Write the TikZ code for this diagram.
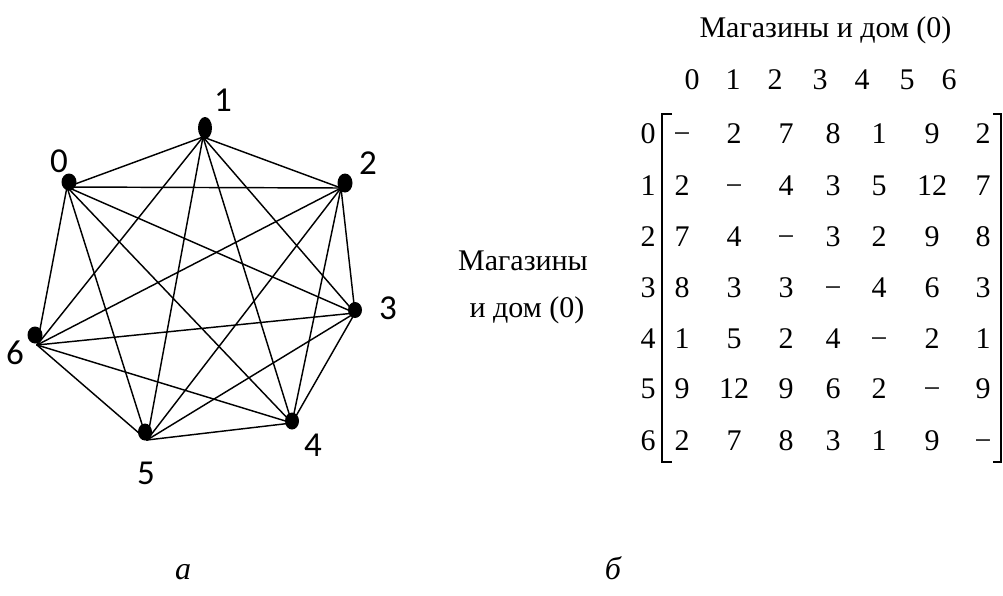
\documentclass[tikz,border=0pt]{standalone}
\usepackage{fontspec}
\setmainfont{Liberation Serif}
\newfontfamily\lblfont{Carlito}
\usetikzlibrary{shapes.geometric}
\begin{document}
\begin{tikzpicture}[x=1pt,y=-1pt,
  vert/.style={ellipse, fill=black, inner sep=0pt, minimum width=15pt, minimum height=18pt},
  vlabel/.style={font=\lblfont\fontsize{35}{42}\selectfont, inner sep=0pt},
  edge/.style={line width=1.45pt, line cap=round},
  cell/.style={font=\fontsize{30}{36}\selectfont, inner sep=0pt, anchor=base},
  txt/.style={font=\fontsize{30}{36}\selectfont, inner sep=0pt, anchor=base},
  capt/.style={font=\itshape\fontsize{32}{38}\selectfont, inner sep=0pt, anchor=base},
  bracket/.style={line width=1.6pt}]

\useasboundingbox (0,0) rectangle (1003,595);

% edge hubs of the vertices
\coordinate (h0) at (67,187);
\coordinate (h1) at (203,137);
\coordinate (h2) at (341,188);
\coordinate (h3) at (355,313);
\coordinate (h4) at (292,423);
\coordinate (h5) at (147,440);
\coordinate (h6) at (37,345);

\foreach \a/\b in {0/1,0/2,0/3,0/4,0/5,0/6,1/2,1/3,1/4,1/5,1/6,2/3,2/4,2/5,2/6,3/4,3/5,3/6,4/5,4/6,5/6}
  \draw[edge] (h\a) -- (h\b);

% vertices
\node[vert, minimum height=17pt] (v0) at (69,182) {};
\node[vert, minimum width=14pt, minimum height=22pt] (v1) at (205,128) {};
\node[vert, minimum height=19pt] (v2) at (345,183) {};
\node[vert, minimum width=14pt, minimum height=16pt] (v3) at (355,310) {};
\node[vert, minimum width=14pt, minimum height=17pt] (v4) at (292,421) {};
\node[vert, minimum width=14pt, minimum height=17pt] (v5) at (145,432) {};
\node[vert, minimum height=17pt] (v6) at (35,335) {};

% vertex labels
\node[vlabel] (l0) at (59,161) {0};
\node[vlabel] (l1) at (223,100) {1};
\node[vlabel] (l2) at (368,163) {2};
\node[vlabel] (l3) at (388,308) {3};
\node[vlabel] (l4) at (313,445) {4};
\node[vlabel] (l5) at (146,473) {5};
\node[vlabel] (l6) at (15,353) {6};

% matrix titles
\node[txt] (title) at (825.5,37) {Магазины и дом (0)};
\node[txt] (side1) at (523,270) {Магазины};
\node[txt] (side2) at (527,317) {и дом (0)};

% column headers
\foreach \v/\xx in {0/692,1/733,2/775,3/820,4/862,5/907,6/949}
  \node[txt] (colh\v) at (\xx,89) {\v};

% rows (baseline = row centre + 10)
\foreach \r/\yy/\vals in {0/143/{−,2,7,8,1,9,2},
                          1/195/{2,−,4,3,5,12,7},
                          2/246/{7,4,−,3,2,9,8},
                          3/297/{8,3,3,−,4,6,3},
                          4/348/{1,5,2,4,−,2,1},
                          5/398/{9,12,9,6,2,−,9},
                          6/450/{2,7,8,3,1,9,−}} {
  \node[cell] (rowl\r) at (648,\yy) {\r};
  \foreach \v [count=\c from 0] in \vals {
    \pgfmathsetmacro{\xx}{{682,734,786,833,879,932,983}[\c]}
    \node[cell] (m\r-\c) at (\xx,\yy) {\v};
  }
}

% brackets
\draw[bracket] (672,114) -- (662,114) -- (662,462) -- (672,462);
\draw[bracket] (993,114) -- (1001,114) -- (1001,462) -- (993,462);

% captions
\node[capt] (capa) at (183,579) {а};
\node[capt] (capb) at (613,579) {б};
\end{tikzpicture}
\end{document}
